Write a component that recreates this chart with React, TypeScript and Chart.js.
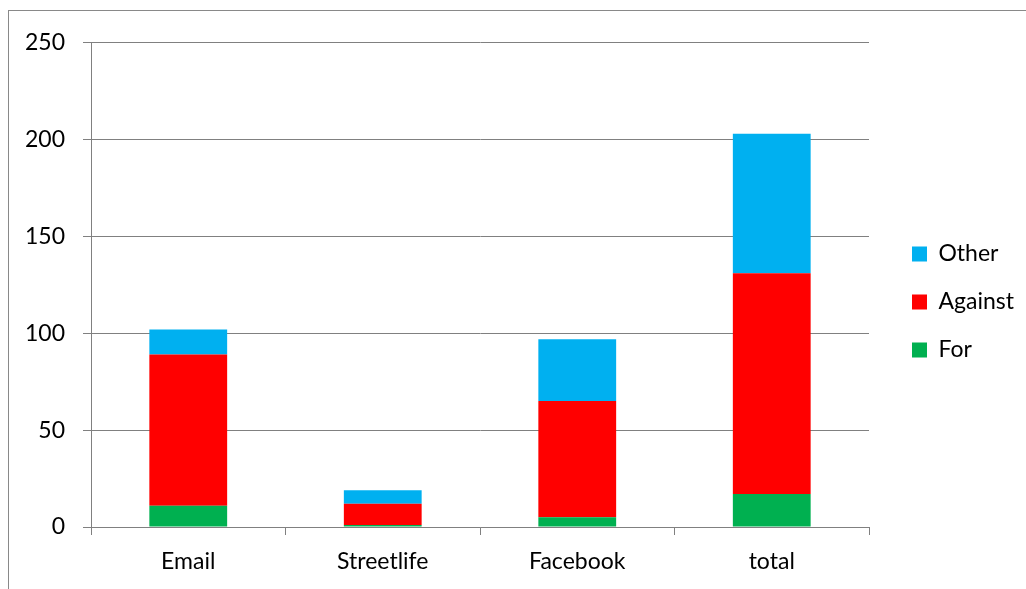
import React, { useEffect, useRef } from "react";
import { Chart, registerables } from "chart.js";

Chart.register(...registerables);

const categories = ["Email", "Streetlife", "Facebook", "total"];
const forValues = [11, 1, 5, 17];
const againstValues = [78, 11, 60, 114];
const otherValues = [13, 7, 32, 72];
const yTicks = [0, 50, 100, 150, 200, 250];

const GRID = "#808080";
const FONT = "Lato";
const FONT_SIZE = 23;
const LEGEND_PAD = 25;

const legendFix = {
  id: "legendFix",
  beforeLayout(chart: any) {
    const lg = chart.legend;
    if (lg && !lg._fixedWidth) {
      const orig = lg.fit.bind(lg);
      lg.fit = function () {
        orig();
        this.width = 157;
      };
      lg._fixedWidth = true;
    }
  },
  afterLayout(chart: any) {
    const lg = chart.legend;
    if (!lg) return;
    const pad = LEGEND_PAD;
    const dx = 903 - (lg.left + pad);
    lg.left += dx;
    lg.right += dx;
    const colH = lg.columnSizes && lg.columnSizes[0] ? lg.columnSizes[0].height : 144;
    const firstTop = (lg.top + pad + lg.bottom - colH) / 2;
    const dy = 243 - FONT_SIZE / 2 - firstTop;
    lg.top += dy;
    lg.bottom += dy;
  },
};

export default function App() {
  const ref = useRef<HTMLCanvasElement>(null);
  useEffect(() => {
    if (!ref.current) return;
    const chart = new Chart(ref.current, {
      type: "bar",
      data: {
        labels: categories,
        datasets: [
          { label: "For", data: forValues, backgroundColor: "#00B050", barPercentage: 0.4, categoryPercentage: 1 },
          { label: "Against", data: againstValues, backgroundColor: "#FF0000", barPercentage: 0.4, categoryPercentage: 1 },
          { label: "Other", data: otherValues, backgroundColor: "#00B0F0", barPercentage: 0.4, categoryPercentage: 1 },
        ],
      },
      options: {
        animation: false,
        responsive: false,
        devicePixelRatio: 1,
        layout: { padding: { top: 29.5, left: 0, right: 0, bottom: 0 } },
        plugins: {
          tooltip: { enabled: false },
          legend: {
            position: "right",
            reverse: true,
            labels: {
              boxWidth: 15,
              boxHeight: 15,
              padding: LEGEND_PAD,
              color: "#000",
              font: { family: FONT, size: FONT_SIZE },
            },
          },
        },
        scales: {
          x: {
            stacked: true,
            grid: { display: true, drawOnChartArea: false, drawTicks: true, tickLength: 8, color: GRID, offset: true },
            border: { display: true, color: GRID, width: 1 },
            ticks: { color: "#000", font: { family: FONT, size: FONT_SIZE }, padding: 13, maxRotation: 0 },
            afterFit: (s: any) => {
              s.height = 62;
            },
          },
          y: {
            stacked: true,
            min: 0,
            max: 250,
            afterBuildTicks: (s: any) => {
              s.ticks = yTicks.map((v) => ({ value: v }));
            },
            grid: { color: GRID, tickLength: 8, drawTicks: true },
            border: { display: true, color: GRID, width: 1 },
            ticks: { color: "#000", font: { family: FONT, size: FONT_SIZE }, padding: 18 },
            afterFit: (s: any) => {
              s.width = 82;
            },
          },
        },
      },
      plugins: [legendFix],
    });
    return () => chart.destroy();
  }, []);
  return (
    <div
      style={{
        position: "fixed",
        left: 8,
        top: 10,
        width: 1018,
        height: 579,
        borderLeft: "1px solid #898989",
        borderTop: "1px solid #898989",
        overflow: "hidden",
        background: "#fff",
      }}
    >
      <canvas ref={ref} width={1017} height={578} style={{ position: "absolute", left: 0, top: 0 }} />
    </div>
  );
}
